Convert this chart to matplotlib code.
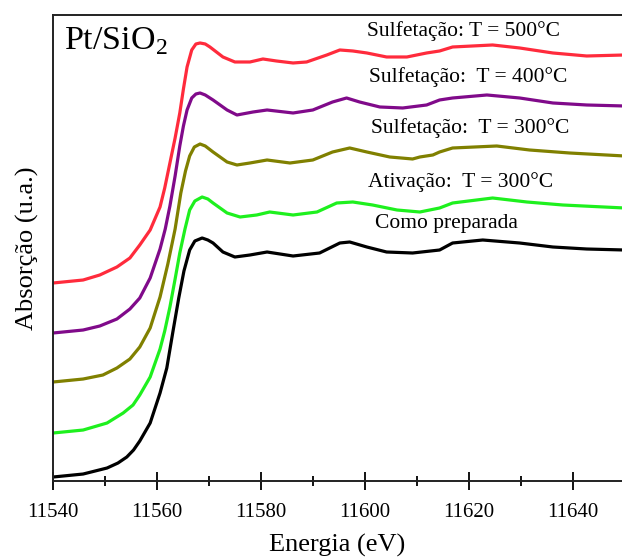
import numpy as np
import matplotlib
matplotlib.use("Agg")
import matplotlib.pyplot as plt
from matplotlib.ticker import MultipleLocator

plt.rcParams['font.family'] = ['Liberation Serif', 'DejaVu Serif']
plt.rcParams['mathtext.fontset'] = 'custom'
plt.rcParams['mathtext.rm'] = 'Liberation Serif'

# Espectros XANES (curvas já deslocadas)
e_500 = [11540, 11545.8, 11549.0, 11552.3, 11554.8, 11556.7, 11558.7, 11560.6, 11561.5,
         11562.5, 11563.5, 11564.4, 11565.1, 11565.8, 11566.7, 11567.5, 11568.3, 11569.3,
         11570.2, 11572.7, 11575.0, 11577.9, 11580.4, 11583.0, 11586.2, 11588.8, 11592.7,
         11595.2, 11597.7, 11600.4, 11604.2, 11608.1, 11611.9, 11614.4, 11616.9, 11624.6,
         11629.8, 11636.2, 11642.7, 11650]
a_500 = [1.98, 2.01, 2.06, 2.14, 2.23, 2.36, 2.51, 2.74, 2.93,
         3.18, 3.43, 3.68, 3.92, 4.14, 4.31, 4.37, 4.38, 4.37,
         4.34, 4.24, 4.19, 4.19, 4.22, 4.20, 4.18, 4.19, 4.26,
         4.31, 4.30, 4.28, 4.24, 4.24, 4.28, 4.30, 4.34, 4.36,
         4.33, 4.28, 4.25, 4.26]

e_400 = [11540, 11545.8, 11549.0, 11552.3, 11554.8, 11556.7, 11558.7, 11560.6, 11561.6,
         11562.5, 11563.5, 11564.4, 11565.1, 11565.8, 11566.7, 11567.5, 11568.3, 11569.3,
         11570.8, 11573.5, 11575.4, 11578.5, 11581.2, 11586.2, 11590.0, 11593.8, 11596.5,
         11599.0, 11602.9, 11607.3, 11611.9, 11614.4, 11616.9, 11623.5, 11629.8, 11636.2,
         11642.7, 11650]
a_400 = [1.48, 1.51, 1.55, 1.62, 1.72, 1.83, 2.03, 2.32, 2.52,
         2.75, 3.05, 3.35, 3.55, 3.71, 3.83, 3.87, 3.88, 3.86,
         3.81, 3.71, 3.66, 3.69, 3.71, 3.68, 3.71, 3.79, 3.83,
         3.79, 3.74, 3.73, 3.76, 3.81, 3.83, 3.86, 3.83, 3.78,
         3.76, 3.75]

e_300s = [11540, 11545.8, 11549.6, 11552.3, 11554.8, 11556.7, 11558.7, 11560.6, 11562.1,
          11563.5, 11564.6, 11565.5, 11566.3, 11567.2, 11568.3, 11569.3, 11570.8, 11573.5,
          11575.4, 11577.9, 11581.2, 11585.6, 11590.0, 11593.8, 11597.1, 11600.4, 11604.8,
          11609.2, 11610.6, 11613.1, 11614.4, 11616.9, 11625.4, 11631.7, 11639.4, 11650]
a_300s = [0.99, 1.02, 1.06, 1.13, 1.22, 1.34, 1.53, 1.84, 2.17,
          2.52, 2.88, 3.10, 3.25, 3.34, 3.37, 3.35, 3.29, 3.19,
          3.16, 3.18, 3.21, 3.18, 3.21, 3.29, 3.33, 3.29, 3.24,
          3.22, 3.24, 3.26, 3.29, 3.33, 3.35, 3.31, 3.28, 3.25]

e_ativ = [11540, 11545.8, 11550.4, 11553.5, 11555.4, 11556.7, 11558.7, 11560.6, 11561.5,
          11562.5, 11563.5, 11564.4, 11565.4, 11566.3, 11567.3, 11568.7, 11569.8, 11570.8,
          11573.5, 11576.0, 11579.2, 11581.7, 11586.2, 11590.8, 11594.6, 11597.7, 11601.5,
          11606.2, 11610.6, 11614.4, 11616.9, 11624.6, 11631.2, 11638.1, 11650]
a_ativ = [0.48, 0.51, 0.58, 0.68, 0.76, 0.86, 1.04, 1.32, 1.50,
          1.74, 2.02, 2.28, 2.52, 2.71, 2.80, 2.84, 2.82, 2.78,
          2.68, 2.64, 2.66, 2.69, 2.66, 2.69, 2.78, 2.79, 2.76,
          2.71, 2.69, 2.73, 2.78, 2.83, 2.79, 2.76, 2.73]

e_prep = [11540, 11545.8, 11550.4, 11552.5, 11554.2, 11555.5, 11556.7, 11558.7, 11560.6,
          11561.9, 11563.1, 11564.2, 11565.2, 11566.3, 11567.3, 11568.7, 11569.8, 11570.8,
          11572.7, 11575.0, 11577.9, 11581.2, 11586.2, 11591.3, 11595.2, 11597.1, 11600.4,
          11604.2, 11609.2, 11614.4, 11616.9, 11622.7, 11629.8, 11636.2, 11642.7, 11650]
a_prep = [0.04, 0.07, 0.13, 0.18, 0.24, 0.31, 0.40, 0.58, 0.88,
          1.13, 1.50, 1.83, 2.10, 2.31, 2.40, 2.43, 2.41, 2.38,
          2.29, 2.24, 2.26, 2.29, 2.25, 2.28, 2.38, 2.39, 2.34,
          2.29, 2.28, 2.31, 2.38, 2.41, 2.38, 2.34, 2.32, 2.31]

rotulos = ["Sulfetação: T = 500°C", "Sulfetação:  T = 400°C", "Sulfetação:  T = 300°C",
           "Ativação:  T = 300°C", "Como preparada"]
cores = ["#ff2b3c", "#800a8a", "#808000", "#1ef01e", "#000000"]
curvas = [(e_500, a_500), (e_400, a_400), (e_300s, a_300s), (e_ativ, a_ativ), (e_prep, a_prep)]
# posições dos rótulos (fração dos eixos)
pos_rotulos = [(0.552, 0.965), (0.555, 0.866), (0.559, 0.758), (0.553, 0.642), (0.566, 0.553)]

fig = plt.figure(figsize=(6.22, 5.59), dpi=100)
ax = fig.add_axes([0.0852, 0.1395, 0.9148, 0.8337])

for (e, a), c in zip(curvas, cores):
    ax.plot(e, a, color=c, lw=2.3, solid_joinstyle='round', solid_capstyle='round')

for txt, (px, py) in zip(rotulos, pos_rotulos):
    ax.text(px, py, txt, transform=ax.transAxes, fontsize=15.5, va='center', ha='left')

ax.text(0.02, 0.943, r'Pt/SiO$_2$', transform=ax.transAxes, fontsize=24.5, va='center', ha='left')

ax.set_xlim(11540, 11649.5)
ax.set_ylim(0, 4.66)
ax.xaxis.set_major_locator(MultipleLocator(20))
ax.xaxis.set_minor_locator(MultipleLocator(10))
ax.tick_params(axis='x', which='major', direction='inout', length=13, width=1.3, labelsize=15, pad=9)
ax.tick_params(axis='x', which='minor', direction='inout', length=6.5, width=1.3)
ax.set_yticks([])
ax.spines['right'].set_visible(False)
for s in ['left', 'bottom', 'top']:
    ax.spines[s].set_linewidth(1.4)
    ax.spines[s].set_color('#222222')

ax.set_xlabel('Energia (eV)', fontsize=19, labelpad=9)
ax.set_ylabel('Absorção (u.a.)', fontsize=19, labelpad=10)

fig.savefig('out.png', dpi=100)
